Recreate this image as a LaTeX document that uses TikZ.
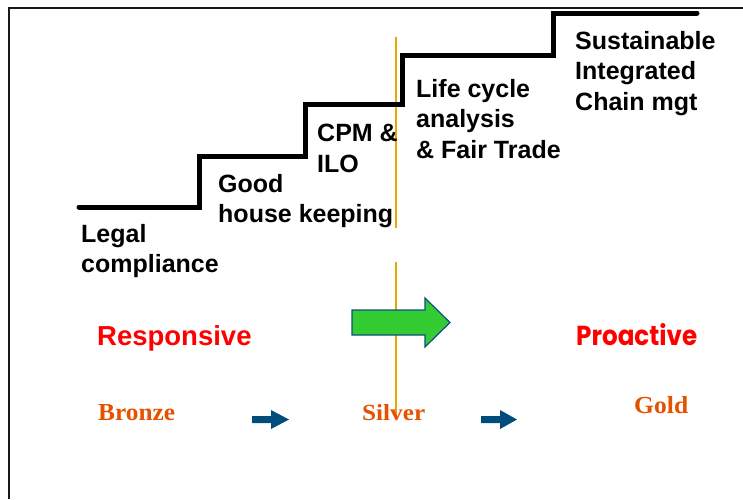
\documentclass[tikz,border=0pt]{standalone}
\usepackage{fontspec}
\usepackage{graphicx}
\setmainfont{Liberation Sans}
\newfontfamily\serifbold{Liberation Serif}
\newfontfamily\roundfont{Poppins}
\definecolor{divline}{HTML}{E8A800}
\definecolor{medalorange}{HTML}{E65100}
\definecolor{arrowblue}{HTML}{004C7A}
\definecolor{bigarrowgreen}{HTML}{33CC33}
\definecolor{bigarrowedge}{HTML}{0E4F7A}
\begin{document}
\begin{tikzpicture}[x=1pt,y=-1pt,
  stairtext/.style={font=\fontsize{25}{30.5}\selectfont\bfseries, align=left, anchor=north west, inner sep=0pt},
  medal/.style={font=\serifbold\bfseries, text=medalorange, anchor=base west, inner sep=0pt},
  blockarrow/.style={fill=arrowblue, draw=none},
  stairline/.style={line width=5pt, line cap=round, line join=miter},
  frameline/.style={line width=2pt, black!90},
  divider/.style={divline, line width=1.5pt}
]
\useasboundingbox (0,0) rectangle (743,499);

% frame
\draw[frameline] (9,499) -- (9,8) -- (743,8);

% divider line
\draw[divider] (396,37) -- (396,228);
\draw[divider] (396,262) -- (396,416);

% stairs
\draw[stairline] (79,207) -- (199,207) -- (199,156) -- (305,156) -- (305,104)
  -- (402,104) -- (402,55) -- (553,55) -- (553,13) -- (697,13);

% stair labels
\node[stairtext] (legal) at (81,224) {Legal\\compliance};
\node[stairtext] (good) at (218,174) {Good\\house keeping};
\node[stairtext] (cpm) at (317,124) {CPM \&\\ILO};
\node[stairtext] (life) at (416,79) {Life cycle\\analysis\\\& Fair Trade};
\node[stairtext] (sust) at (575,31) {Sustainable\\Integrated\\Chain mgt};

% big green arrow
\draw[fill=bigarrowgreen, draw=bigarrowedge, line width=1.2pt, line join=miter]
  (352,310) -- (425,310) -- (425,298) -- (450,322.5) -- (425,347) -- (425,335) -- (352,335) -- cycle;

% responsive / proactive
\node[anchor=base west, inner sep=0pt, text=red, font=\fontsize{27.5}{33}\selectfont\bfseries] (resp) at (97,345) {Responsive};
\node[anchor=base west, inner sep=0pt, text=red] (proa) at (576,345) {\resizebox{121pt}{22pt}{\roundfont\bfseries Proactive}};

% medals
\node[medal] (bronze) at (98,420) {\resizebox{77pt}{16pt}{Bronze}};
\node[medal] (silver) at (362,420) {\resizebox{63pt}{16pt}{Silver}};
\node[medal] (gold) at (634,413) {\resizebox{54pt}{17pt}{Gold}};

% small blue arrows
\path[blockarrow] (252,416) -- (271,416) -- (271,410) -- (289,419.5) -- (271,429) -- (271,423) -- (252,423) -- cycle;
\path[blockarrow] (481,416) -- (500,416) -- (500,410) -- (517,419.5) -- (500,429) -- (500,423) -- (481,423) -- cycle;
\end{tikzpicture}
\end{document}
